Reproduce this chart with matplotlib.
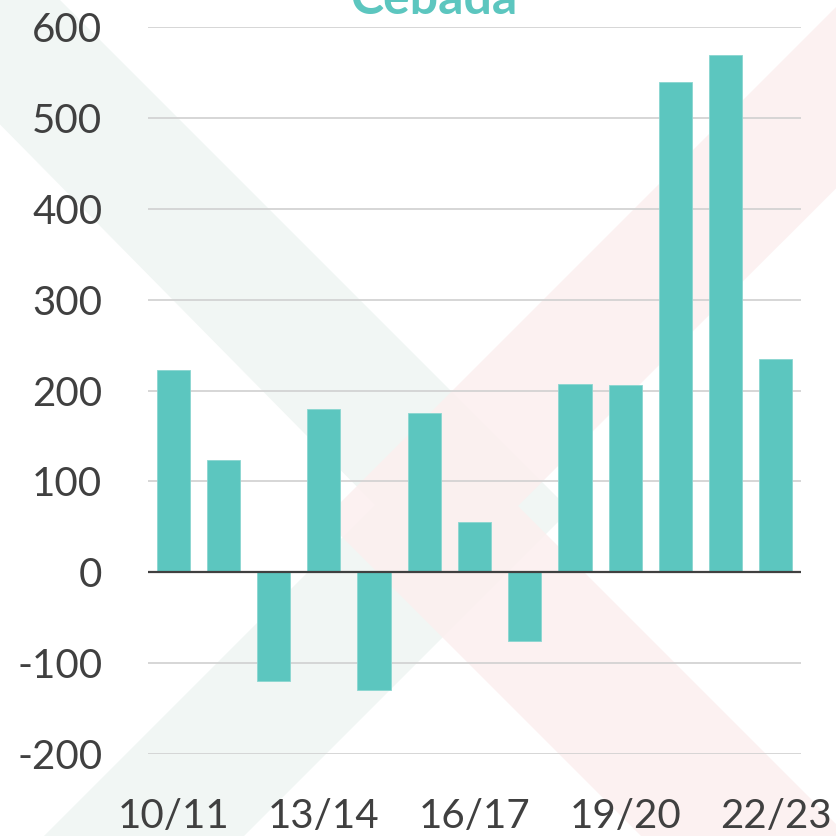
import matplotlib
matplotlib.use("Agg")
import matplotlib.pyplot as plt
from matplotlib.patches import Polygon

categories = ["10/11", "11/12", "12/13", "13/14", "14/15", "15/16", "16/17",
              "17/18", "18/19", "19/20", "20/21", "21/22", "22/23"]
values = [223, 123, -120, 180, -130, 175, 55, -76, 207, 206, 539, 569, 235]
yticks = [-200, -100, 0, 100, 200, 300, 400, 500, 600]
title = "Cebada"

BAR = "#5CC6BF"
TXT = "#404040"

plt.rcParams['font.family'] = ['Lato', 'DejaVu Sans']

W = 836
fig = plt.figure(figsize=(8.36, 8.36), dpi=100)
fig.patch.set_facecolor("white")

def px(pts):
    return [(x / W, 1 - y / W) for x, y in pts]

# background watermark (green ">" and red "<")
green = [(-300, -360), (570, 510), (-300, 1380), (-300, 1180), (375, 505), (-300, -180)]
red = [(1200, -357), (324, 519), (1200, 1395), (1200, 1188), (518, 506), (1200, -175)]
fig.patches.append(Polygon(px(green), closed=True, transform=fig.transFigure,
                           facecolor="#F1F6F4", edgecolor="none", zorder=-2))
fig.patches.append(Polygon(px(red), closed=True, transform=fig.transFigure,
                           facecolor="#FCEFEF", edgecolor="none", alpha=0.85, zorder=-1))

ax = fig.add_axes([148 / W, 1 - 754 / W, 653 / W, 727 / W])
ax.set_zorder(2)
ax.set_facecolor("none")

x = list(range(len(categories)))
ax.bar(x, values, width=0.66, color=BAR, edgecolor="#8AD6D0", linewidth=0.6, zorder=3)

ax.set_xlim(-0.5, len(categories) - 0.5)
ax.set_ylim(-200, 600)
ax.set_yticks(yticks)
ax.set_yticklabels([str(v) for v in yticks])
ax.set_xticks(x[::3])
ax.set_xticklabels(categories[::3])

for v in yticks:
    if v != 0:
        ax.axhline(v, color="#D0D0D0", linewidth=1.2, zorder=1)
ax.axhline(0, color="#404040", linewidth=1.6, zorder=4)

for s in ax.spines.values():
    s.set_visible(False)
ax.tick_params(axis="both", length=0, labelsize=29, colors=TXT)
ax.tick_params(axis="y", pad=33)
ax.tick_params(axis="x", pad=32)

t = fig.text(434 / W, 1 - 14 / W, title, ha="center", va="baseline",
             fontsize=36, fontweight="bold", color=BAR)
t.set_zorder(3)

fig.savefig("out.png", dpi=100)
